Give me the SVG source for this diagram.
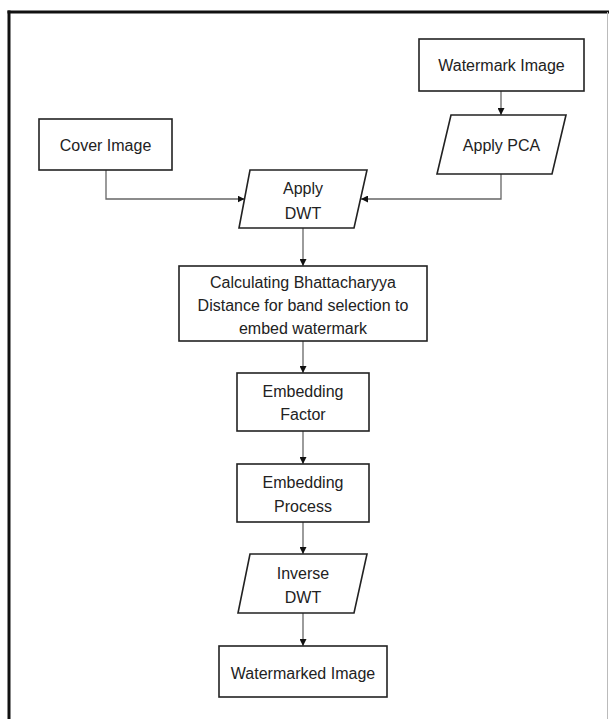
<svg xmlns="http://www.w3.org/2000/svg" width="609" height="719" viewBox="0 0 609 719">
<defs>
<style>
.box{fill:#fff;stroke:#222;stroke-width:1.6}
.t{font-family:"Liberation Sans",Arial,sans-serif;font-size:16px;fill:#222;text-anchor:middle;dominant-baseline:central}
.c{fill:none;stroke:#666;stroke-width:1.3}
</style>
<marker id="ah" viewBox="0 0 10 10" refX="10" refY="5" markerWidth="7" markerHeight="7" markerUnits="userSpaceOnUse" orient="auto">
<path d="M0,0 L10,5 L0,10 z" fill="#111"/>
</marker>
</defs>
<rect width="609" height="719" fill="#fff"/>
<g id="frame">
<line x1="7.5" y1="12" x2="609" y2="12" stroke="#111" stroke-width="3"/>
<line x1="9" y1="10.5" x2="9" y2="719" stroke="#111" stroke-width="3"/>
<line x1="607.5" y1="12" x2="607.5" y2="719" stroke="#bbb" stroke-width="1"/>
</g>
<g id="connectors">
<line class="c" x1="501" y1="91" x2="501" y2="115" marker-end="url(#ah)"/>
<polyline class="c" points="106,170 106,199 244.5,199" marker-end="url(#ah)"/>
<polyline class="c" points="501,174 501,199 361,199" marker-end="url(#ah)"/>
<line class="c" x1="303" y1="228" x2="303" y2="266" marker-end="url(#ah)"/>
<line class="c" x1="303" y1="341" x2="303" y2="373" marker-end="url(#ah)"/>
<line class="c" x1="303" y1="431" x2="303" y2="464" marker-end="url(#ah)"/>
<line class="c" x1="303" y1="522" x2="303" y2="554" marker-end="url(#ah)"/>
<line class="c" x1="303" y1="613" x2="303" y2="646" marker-end="url(#ah)"/>
</g>
<g id="watermark-image">
<rect class="box" x="419" y="39" width="165" height="52"/>
<text class="t" x="501.5" y="65">Watermark Image</text>
</g>
<g id="apply-pca">
<polygon class="box" points="451,115 566,115 552,174 437,174"/>
<text class="t" x="501.5" y="145">Apply PCA</text>
</g>
<g id="cover-image">
<rect class="box" x="39" y="119" width="133" height="51"/>
<text class="t" x="105.5" y="145">Cover Image</text>
</g>
<g id="apply-dwt">
<polygon class="box" points="250,170 367,170 354,228 239,228"/>
<text class="t" x="303" y="188">Apply</text>
<text class="t" x="303" y="213">DWT</text>
</g>
<g id="bhattacharyya">
<rect class="box" x="179" y="266" width="248" height="75"/>
<text class="t" x="303" y="282">Calculating Bhattacharyya</text>
<text class="t" x="303" y="305">Distance for band selection to</text>
<text class="t" x="303" y="328">embed watermark</text>
</g>
<g id="embedding-factor">
<rect class="box" x="237" y="373" width="132" height="58"/>
<text class="t" x="303" y="391">Embedding</text>
<text class="t" x="303" y="414">Factor</text>
</g>
<g id="embedding-process">
<rect class="box" x="237" y="464" width="132" height="58"/>
<text class="t" x="303" y="482">Embedding</text>
<text class="t" x="303" y="506">Process</text>
</g>
<g id="inverse-dwt">
<polygon class="box" points="250,554 367,554 354,613 238,613"/>
<text class="t" x="303" y="573">Inverse</text>
<text class="t" x="303" y="597">DWT</text>
</g>
<g id="watermarked-image">
<rect class="box" x="219" y="646" width="168" height="51"/>
<text class="t" x="303" y="673">Watermarked Image</text>
</g>
</svg>
